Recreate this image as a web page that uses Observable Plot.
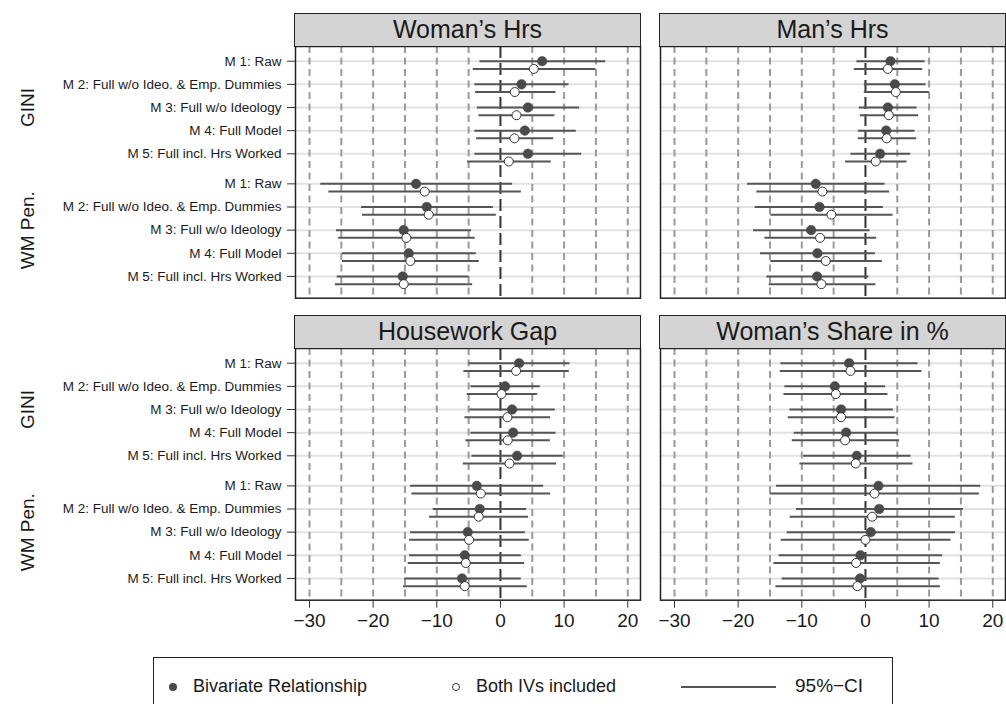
<!DOCTYPE html>
<html>
<head>
<meta charset="utf-8">
<script src="https://cdn.jsdelivr.net/npm/d3@7"></script>
<script src="https://cdn.jsdelivr.net/npm/@observablehq/plot@0.6"></script>
<style>
  html, body { margin: 0; padding: 0; background: #fff; }
  #root { position: relative; width: 1006px; height: 704px; overflow: hidden; font-family: "Liberation Sans", Arial, sans-serif; color: #1a1a1a; }
  .strip { position: absolute; box-sizing: border-box; background: #d4d4d4; border: 1.5px solid #222; text-align: center; font-size: 25px; line-height: 31px; }
  .panel { position: absolute; }
  #legend { position: absolute; box-sizing: border-box; border: 1.5px solid #222; background: #fff; }
  .li { position: absolute; font-size: 18px; line-height: 20px; white-space: nowrap; }
</style>
</head>
<body>
<div id="root"></div>
<script>
// ---- data ----
const panelTitles = ["Woman’s Hrs", "Man’s Hrs", "Housework Gap", "Woman’s Share in %"];
const groups = ["GINI", "WM Pen."];
const models = ["M 1: Raw", "M 2: Full w/o Ideo. & Emp. Dummies", "M 3: Full w/o Ideology", "M 4: Full Model", "M 5: Full incl. Hrs Worked"];
const legendLabels = ["Bivariate Relationship", "Both IVs included", "95%−CI"];
const xTicks = [-30, -20, -10, 0, 10, 20];
const xGrid = [-30, -25, -20, -15, -10, -5, 5, 10, 15, 20];

// [estimate, lower 95% CI, upper 95% CI]; GINI M1..M5, then WM Pen. M1..M5
const womanHrsBiv = [[6.55,-3.3,16.46],[3.3,-4.09,10.69],[4.3,-3.72,12.37],[3.83,-4.09,11.84],[4.3,-4.09,12.68],[-13.26,-28.3,1.83],[-11.58,-21.9,-1.2],[-15.2,-25.84,-4.61],[-14.41,-24.9,-3.88],[-15.36,-25.73,-5.03]];
const womanHrsBoth = [[5.24,-4.35,14.9],[2.25,-3.98,8.65],[2.52,-3.46,8.49],[2.2,-3.83,8.28],[1.31,-5.24,7.91],[-11.9,-27.04,3.2],[-11.27,-21.75,-0.73],[-14.78,-25.5,-4.04],[-14.15,-24.9,-3.41],[-15.2,-26.0,-4.45]];
const manHrsBiv = [[3.93,-1.42,9.28],[4.61,-0.26,9.43],[3.51,-1.05,8.02],[3.25,-1.2,7.7],[2.3,-2.36,7.02],[-7.81,-18.6,2.99],[-7.23,-17.4,2.73],[-8.54,-17.66,0.63],[-7.55,-16.56,1.47],[-7.6,-15.57,0.47]];
const manHrsBoth = [[3.51,-1.83,8.91],[4.77,-0.26,9.96],[3.67,-0.89,8.28],[3.35,-1.2,7.97],[1.62,-3.2,6.45],[-6.76,-17.14,3.72],[-5.35,-14.94,4.25],[-7.13,-15.88,1.68],[-6.24,-14.94,2.57],[-6.92,-15.2,1.57]];
const gapBiv = [[2.93,-5.03,10.85],[0.73,-4.72,6.18],[1.83,-4.87,8.54],[1.99,-4.72,8.65],[2.62,-4.56,9.8],[-3.72,-14.2,6.71],[-3.25,-10.64,4.04],[-5.14,-14.2,3.83],[-5.61,-14.36,3.2],[-6.03,-15.09,3.2]];
const gapBoth = [[2.46,-5.82,10.74],[0.16,-5.29,5.77],[1.1,-5.66,7.81],[1.15,-5.5,7.76],[1.42,-5.92,8.75],[-3.09,-13.99,7.81],[-3.41,-11.22,4.35],[-4.93,-14.36,4.45],[-5.45,-14.57,3.72],[-5.61,-15.3,4.14]];
const shareBiv = [[-2.57,-13.36,8.18],[-4.82,-12.74,3.09],[-3.83,-11.95,4.3],[-3.04,-11.27,5.03],[-1.36,-9.8,7.08],[2.04,-14.05,18.03],[2.15,-10.9,15.3],[0.84,-12.37,14.05],[-0.79,-13.63,12.05],[-0.84,-13.15,11.48]];
const shareBoth = [[-2.36,-13.47,8.8],[-4.66,-12.89,3.46],[-3.83,-12.21,4.56],[-3.2,-11.58,5.29],[-1.52,-10.38,7.39],[1.42,-15.04,17.82],[1.05,-11.9,14.05],[0,-13.31,13.36],[-1.47,-14.47,11.69],[-1.26,-14.15,11.69]];

// ---- layout constants ----
const GROUP_STEP = 5.3;   // row-index offset of the second group
const OPEN_OFFSET = 0.333; // open dot sits just below the filled one
const Y_DOMAIN = [-0.636, 10.24];
const X_DOMAIN = [-32.2, 22.0];
const FONT = "Liberation Sans, Arial, sans-serif";

const root = document.getElementById("root");

function buildRows(biv, both) {
  const rows = [];
  groups.forEach((g, gi) => models.forEach((m, mi) => {
    const k = gi * models.length + mi;
    const pos = gi * GROUP_STEP + mi;
    rows.push({type: "biv", pos, est: biv[k][0], lo: biv[k][1], hi: biv[k][2]});
    rows.push({type: "both", pos: pos + OPEN_OFFSET, est: both[k][0], lo: both[k][1], hi: both[k][2]});
  }));
  return rows;
}

const tickPos = [];
const tickLabel = new Map();
groups.forEach((g, gi) => models.forEach((m, mi) => {
  const p = gi * GROUP_STEP + mi;
  tickPos.push(p);
  tickLabel.set(p, m);
}));
const groupCenters = groups.map((g, gi) => ({g, pos: gi * GROUP_STEP + (models.length - 1) / 2}));

function makePanel({title, biv, both, left, top, showY, showX}) {
  const rows = buildRows(biv, both);
  const marginLeft = showY ? 295 : 20;
  const marginTop = 2;
  const marginBottom = showX ? 42 : 2;
  const frameH = 251.7;
  const width = showY ? 642 : 366;
  const marginRight = showY ? 2 : 1;
  const marks = [
    Plot.ruleY(tickPos, {stroke: "#e2e2e2", strokeWidth: 2}),
    Plot.ruleX(xGrid, {stroke: "#9a9a9a", strokeWidth: 2, strokeDasharray: "7,4.5"}),
    Plot.ruleX([0], {stroke: "#333", strokeWidth: 2, strokeDasharray: "12,5"}),
    Plot.link(rows, {x1: "lo", x2: "hi", y1: "pos", y2: "pos", stroke: "#555", strokeWidth: 2}),
    Plot.dot(rows.filter(d => d.type === "biv"), {x: "est", y: "pos", r: 4.8, fill: "#4a4a4a", stroke: "#4a4a4a", strokeWidth: 0.5}),
    Plot.dot(rows.filter(d => d.type === "both"), {x: "est", y: "pos", r: 4.5, fill: "#fff", stroke: "#333", strokeWidth: 1}),
    Plot.frame({stroke: "#222", strokeWidth: 1.5})
  ];
  if (showY) {
    marks.push(Plot.axisY(tickPos, {tickSize: 8, tickPadding: 6, fontSize: 13.5, tickFormat: d => tickLabel.get(d), label: null, stroke: "#333"}));
    marks.push(Plot.text(groupCenters, {y: "pos", text: "g", frameAnchor: "left", textAnchor: "middle", dx: -268, rotate: -90, fontSize: 19, fill: "#1a1a1a"}));
  }
  if (showX) {
    marks.push(Plot.axisX(xTicks, {tickSize: 8, tickPadding: 5, fontSize: 19, label: null, stroke: "#333"}));
  }
  const chart = Plot.plot({
    width,
    height: marginTop + frameH + marginBottom,
    marginLeft, marginRight, marginTop, marginBottom,
    x: {domain: X_DOMAIN, axis: showX ? undefined : null, label: null},
    y: {domain: Y_DOMAIN, reverse: true, axis: showY ? undefined : null, label: null},
    style: {fontFamily: FONT, color: "#1a1a1a", background: "transparent", overflow: "visible"},
    marks
  });
  chart.classList.add("panel");
  chart.style.left = left + "px";
  chart.style.top = (top - marginTop) + "px";
  root.appendChild(chart);

  const strip = document.createElement("div");
  strip.className = "strip";
  strip.textContent = title;
  const frameLeft = left + marginLeft;
  const frameRight = left + width - marginRight;
  strip.style.left = (frameLeft - 0.75) + "px";
  strip.style.width = (frameRight - frameLeft + 1.5) + "px";
  strip.style.top = (top - 33) + "px";
  strip.style.height = "34px";
  root.appendChild(strip);
}

makePanel({title: panelTitles[0], biv: womanHrsBiv, both: womanHrsBoth, left: 0, top: 46, showY: true, showX: false});
makePanel({title: panelTitles[1], biv: manHrsBiv, both: manHrsBoth, left: 640, top: 46, showY: false, showX: false});
makePanel({title: panelTitles[2], biv: gapBiv, both: gapBoth, left: 0, top: 348.3, showY: true, showX: true});
makePanel({title: panelTitles[3], biv: shareBiv, both: shareBoth, left: 640, top: 348.3, showY: false, showX: true});

// ---- legend ----
const legend = document.createElement("div");
legend.id = "legend";
legend.style.left = "153px";
legend.style.top = "657px";
legend.style.width = "740px";
legend.style.height = "48px";
const cy = 29;
legend.innerHTML = `
  <svg width="740" height="48" style="position:absolute;left:0;top:0">
    <circle cx="19" cy="${cy}" r="4" fill="#4a4a4a"/>
    <circle cx="302" cy="${cy}" r="3.5" fill="#fff" stroke="#333" stroke-width="1"/>
    <line x1="527" x2="622" y1="${cy}" y2="${cy}" stroke="#555" stroke-width="2"/>
  </svg>
  <div class="li" style="left:39px;top:${cy - 11}px">${legendLabels[0]}</div>
  <div class="li" style="left:322px;top:${cy - 11}px">${legendLabels[1]}</div>
  <div class="li" style="left:641px;top:${cy - 11}px;font-size:19px">${legendLabels[2]}</div>`;
root.appendChild(legend);
</script>
</body>
</html>
